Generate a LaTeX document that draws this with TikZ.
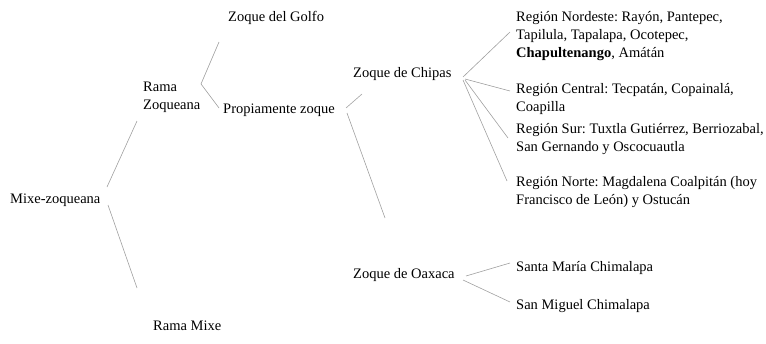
\documentclass[tikz,border=0pt]{standalone}
\usepackage{fontspec}
\setmainfont{Liberation Serif}
\usetikzlibrary{calc}
\definecolor{linegray}{HTML}{A0A0A0}
\frenchspacing
\begin{document}
\begin{tikzpicture}[x=1pt,y=-1pt,
  lbl/.style={anchor=west,inner sep=0pt,align=left,font=\fontsize{14.5}{18}\selectfont\frenchspacing},
  conn/.style={draw=linegray,line width=0.6pt}]
\useasboundingbox (0,0) rectangle (766,343);
\node[lbl] (mz) at (10,200) {Mixe-zoqueana};
\node[lbl] (rz) at (143,97) {Rama\\Zoqueana};
\node[lbl] (rm) at (153,326) {Rama Mixe};
\node[lbl] (golfo) at (228,18) {Zoque del Golfo};
\node[lbl] (prop) at (223,110) {Propiamente zoque};
\node[lbl] (chipas) at (353,74) {Zoque de Chipas};
\node[lbl] (oaxaca) at (353,275) {Zoque de Oaxaca};
\node[lbl] (nordeste) at (516,36) {Región Nordeste: Rayón, Pantepec,\\Tapilula, Tapalapa, Ocotepec,\\\textbf{Chapultenango}, Amátán};
\node[lbl] (central) at (516,99) {Región Central: Tecpatán, Copainalá,\\Coapilla};
\node[lbl] (sur) at (516,139) {Región Sur: Tuxtla Gutiérrez, Berriozabal,\\San Gernando y Oscocuautla};
\node[lbl] (norte) at (516,192) {Región Norte: Magdalena Coalpitán (hoy\\Francisco de León) y Ostucán};
\node[lbl] (santa) at (516,268) {Santa María Chimalapa};
\node[lbl] (miguel) at (516,306) {San Miguel Chimalapa};
% connectors
\draw[conn] ($(mz.west)+(97,-13)$) -- ($(rz.west)+(-6,24)$);
\draw[conn] ($(mz.west)+(98,5)$) -- ($(rm.west)+(-16,-38)$);
\draw[conn] ($(rz.west)+(58,-13)$) -- ($(golfo.west)+(-9,24)$);
\draw[conn] ($(rz.west)+(58,-13)$) -- ($(prop.west)+(-4,-2)$);
\draw[conn] ($(prop.west)+(123,-2)$) -- ($(chipas.west)+(9,20)$);
\draw[conn] ($(prop.west)+(124,3)$) -- ($(oaxaca.west)+(32,-57)$);
\draw[conn] ($(chipas.west)+(110,3)$) -- ($(nordeste.west)+(-6,-4)$);
\draw[conn] ($(chipas.west)+(112,5)$) -- ($(central.west)+(-6,-8)$);
\draw[conn] ($(chipas.west)+(112,6)$) -- ($(sur.west)+(-8,-1)$);
\draw[conn] ($(chipas.west)+(110,6)$) -- ($(norte.west)+(-9,-11)$);
\draw[conn] ($(oaxaca.west)+(113,1)$) -- ($(santa.west)+(-6,-5)$);
\draw[conn] ($(oaxaca.west)+(110,5)$) -- ($(miguel.west)+(-6,-4)$);
\end{tikzpicture}
\end{document}
